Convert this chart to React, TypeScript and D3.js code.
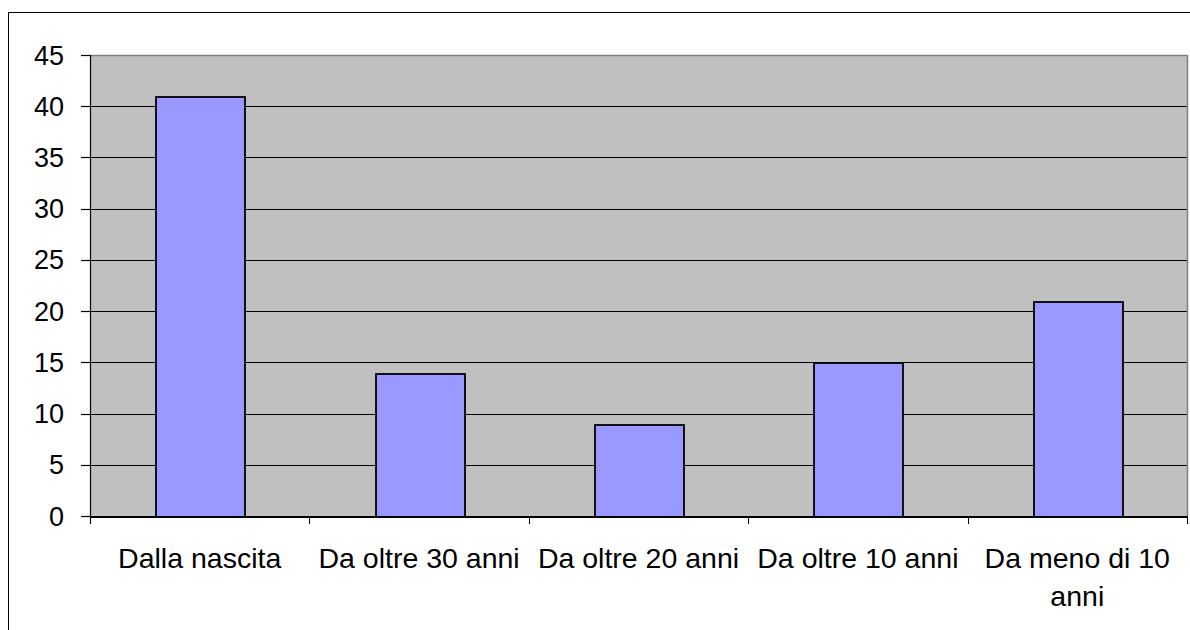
import React from "react";
import * as d3 from "d3";

const categories: string[][] = [
  ["Dalla nascita"],
  ["Da oltre 30 anni"],
  ["Da oltre 20 anni"],
  ["Da oltre 10 anni"],
  ["Da meno di 10", "anni"],
];
const values: number[] = [41, 14, 9, 15, 21];
const yTicks: number[] = [0, 5, 10, 15, 20, 25, 30, 35, 40, 45];

export default function App() {
  const W = 1190, H = 630;
  const left = 90, right = 1187, top = 55, bottom = 516;
  const x = d3.scaleBand<number>().domain(d3.range(categories.length)).range([left, right]).paddingInner(0).paddingOuter(0);
  const y = d3.scaleLinear().domain([0, 45]).range([bottom, top]);
  const bw = x.bandwidth() * 0.405;
  const font = "'Liberation Sans', Arial, sans-serif";
  return (
    <svg width={W} height={H} style={{ position: "absolute", left: 0, top: 0 }} fontFamily={font}>
      <rect x={0} y={0} width={W} height={H} fill="#fff" />
      <rect x={8.5} y={12.5} width={W + 10} height={H + 10} fill="none" stroke="#000" strokeWidth={1} />
      <rect x={left} y={top} width={right - left} height={bottom - top} fill="#C0C0C0" />
      {yTicks.filter(t => t > 0).map(t => (
        <line key={"g" + t} x1={left} x2={right} y1={Math.round(y(t)) + 0.5} y2={Math.round(y(t)) + 0.5} stroke="#000" strokeWidth={1.2} />
      ))}
      <line x1={left} x2={right} y1={top + 0.5} y2={top + 0.5} stroke="#808080" strokeWidth={1.5} />
      <line x1={right + 0.5} x2={right + 0.5} y1={top} y2={bottom} stroke="#808080" strokeWidth={1.5} />
      {values.map((v, i) => {
        const cx = x(i)! + x.bandwidth() / 2;
        return (
          <rect key={"b" + i} x={Math.round(cx - bw / 2) + 1} y={Math.round(y(v)) + 1} width={Math.round(bw)} height={Math.round(y(0)) - Math.round(y(v))} fill="#9999FF" stroke="#000" strokeWidth={1.8} />
        );
      })}
      <line x1={left + 0.5} x2={left + 0.5} y1={top} y2={bottom + 8} stroke="#000" strokeWidth={1.2} />
      <line x1={left} x2={right + 1} y1={bottom + 1} y2={bottom + 1} stroke="#000" strokeWidth={1.8} />
      {yTicks.map(t => (
        <g key={"t" + t}>
          <line x1={left - 9} x2={left} y1={Math.round(y(t)) + 0.5} y2={Math.round(y(t)) + 0.5} stroke="#000" strokeWidth={1.2} />
          <text x={64} y={y(t) + 9.5} textAnchor="end" fontSize={27} fill="#000">{t}</text>
        </g>
      ))}
      {d3.range(categories.length + 1).map(i => {
        const xx = i < categories.length ? x(i)! : right;
        return <line key={"xt" + i} x1={Math.round(xx) + 0.5} x2={Math.round(xx) + 0.5} y1={bottom} y2={bottom + 8} stroke="#000" strokeWidth={1} />;
      })}
      {categories.map((lines, i) => {
        const cx = x(i)! + x.bandwidth() / 2;
        return (
          <text key={"c" + i} x={cx} y={568} textAnchor="middle" fontSize={28.5} fill="#000">
            {lines.map((l, j) => (
              <tspan key={j} x={cx} dy={j === 0 ? 0 : 38}>{l}</tspan>
            ))}
          </text>
        );
      })}
    </svg>
  );
}
